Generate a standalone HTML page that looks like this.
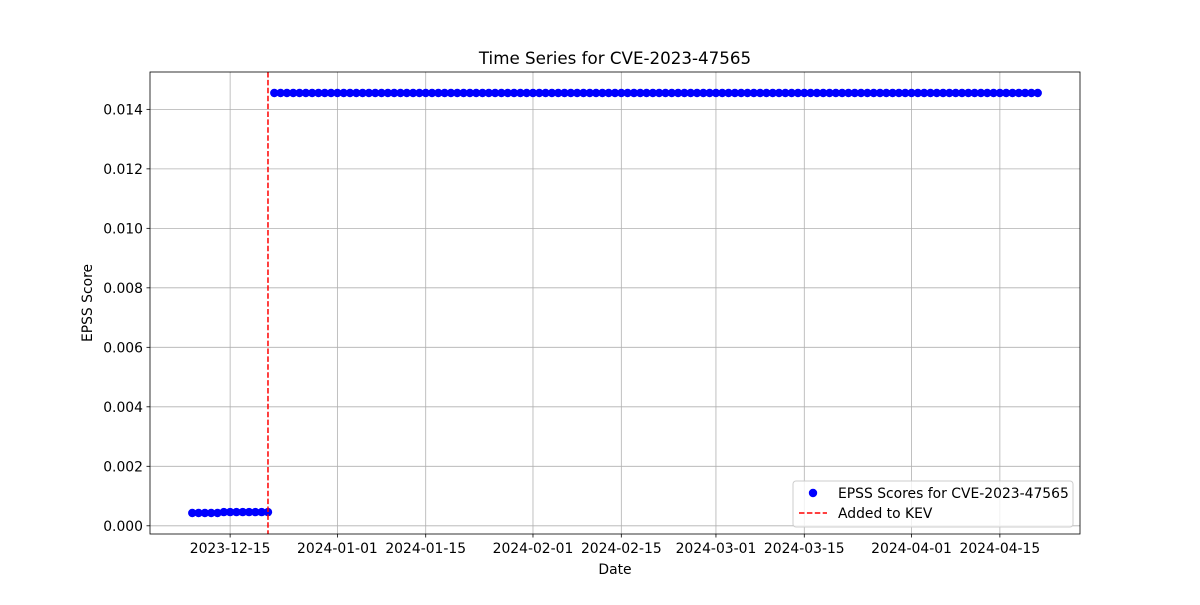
<!DOCTYPE html>
<html><head><meta charset="utf-8"><style>
body{margin:0;background:#fff;font-family:"Liberation Sans","DejaVu Sans",sans-serif;}
</style></head><body>
<svg id="chart" width="1200" height="600" xmlns="http://www.w3.org/2000/svg" font-family="DejaVu Sans, Liberation Sans, sans-serif"></svg>
<script>
const startDate = "2023-12-09";
const lowValues = [0.00043,0.00043,0.00043,0.00043,0.00043,0.00046,0.00046,0.00046,0.00046,0.00046,0.00046,0.00046,0.00046];
const highValues = [
0.01455,0.01455,0.01455,0.01455,0.01455,0.01455,0.01455,0.01455,0.01455,0.01455,
0.01455,0.01455,0.01455,0.01455,0.01455,0.01455,0.01455,0.01455,0.01455,0.01455,
0.01455,0.01455,0.01455,0.01455,0.01455,0.01455,0.01455,0.01455,0.01455,0.01455,
0.01455,0.01455,0.01455,0.01455,0.01455,0.01455,0.01455,0.01455,0.01455,0.01455,
0.01455,0.01455,0.01455,0.01455,0.01455,0.01455,0.01455,0.01455,0.01455,0.01455,
0.01455,0.01455,0.01455,0.01455,0.01455,0.01455,0.01455,0.01455,0.01455,0.01455,
0.01455,0.01455,0.01455,0.01455,0.01455,0.01455,0.01455,0.01455,0.01455,0.01455,
0.01455,0.01455,0.01455,0.01455,0.01455,0.01455,0.01455,0.01455,0.01455,0.01455,
0.01455,0.01455,0.01455,0.01455,0.01455,0.01455,0.01455,0.01455,0.01455,0.01455,
0.01455,0.01455,0.01455,0.01455,0.01455,0.01455,0.01455,0.01455,0.01455,0.01455,
0.01455,0.01455,0.01455,0.01455,0.01455,0.01455,0.01455,0.01455,0.01455,0.01455,
0.01455,0.01455,0.01455,0.01455,0.01455,0.01455,0.01455,0.01455,0.01455,0.01455,
0.01455,0.01455];
const kevDate = "2023-12-21";
const xTickLabels = ["2023-12-15","2024-01-01","2024-01-15","2024-02-01","2024-02-15","2024-03-01","2024-03-15","2024-04-01","2024-04-15"];
const yTickValues = [0,0.002,0.004,0.006,0.008,0.010,0.012,0.014];

const NS="http://www.w3.org/2000/svg";
const svg=document.getElementById('chart');
function mk(tag,attrs,parent){const e=document.createElementNS(NS,tag);for(const k in attrs)e.setAttribute(k,attrs[k]);(parent||svg).appendChild(e);return e;}
const DAY=86400000;
const t0=Date.parse(startDate);
const values=lowValues.concat(highValues);
const times=values.map((v,i)=>t0+i*DAY);
const L=150,R=1080,T=72,B=534;
const tmin=times[0],tmax=times[times.length-1],tpad=(tmax-tmin)*0.05;
const vmin=Math.min(...values),vmax=Math.max(...values),vpad=(vmax-vmin)*0.05;
const x=t=>L+(t-(tmin-tpad))/((tmax+tpad)-(tmin-tpad))*(R-L);
const y=v=>B-(v-(vmin-vpad))/((vmax+vpad)-(vmin-vpad))*(B-T);
const FS=13.9;

xTickLabels.forEach(d=>{const px=x(Date.parse(d));
 const g=mk('line',{x1:px,x2:px,y1:T,y2:B,stroke:'#b0b0b0','stroke-width':0.8});
 
 mk('line',{x1:px,x2:px,y1:B,y2:B+3.5,stroke:'#000','stroke-width':0.8});
 const t=mk('text',{x:px,y:B+19,'font-size':FS,'text-anchor':'middle'});t.textContent=d;
 
});
yTickValues.forEach(v=>{const py=y(v);
 const g=mk('line',{x1:L,x2:R,y1:py,y2:py,stroke:'#b0b0b0','stroke-width':0.8});
 
 mk('line',{x1:L-3.5,x2:L,y1:py,y2:py,stroke:'#000','stroke-width':0.8});
 const t=mk('text',{x:L-7,y:py+5,'font-size':FS,'text-anchor':'end'});t.textContent=v.toFixed(3);
 
});
values.forEach((v,i)=>{const c=mk('circle',{cx:x(times[i]),cy:y(v),r:4.2,fill:'#0000ff'});
 });
const kx=x(Date.parse(kevDate));
const kl=mk('line',{x1:kx,x2:kx,y1:T,y2:B,stroke:'#ff0000','stroke-width':1.5,'stroke-dasharray':'5.5,2.4'});

const fr=mk('rect',{x:L,y:T,width:R-L,height:B-T,fill:'none',stroke:'#000','stroke-width':0.8});

let t=mk('text',{x:(L+R)/2,y:64,'font-size':16.7,'text-anchor':'middle'});t.textContent='Time Series for CVE-2023-47565';

t=mk('text',{x:(L+R)/2,y:574,'font-size':FS,'text-anchor':'middle'});t.textContent='Date';

t=mk('text',{x:0,y:0,'font-size':FS,'text-anchor':'middle',transform:'translate(92,303) rotate(-90)'});t.textContent='EPSS Score';

const lg=mk('g',{});
mk('rect',{x:793,y:481,width:280,height:46,rx:3,fill:'#fff','fill-opacity':0.8,stroke:'#ccc'},lg);
mk('circle',{cx:813,cy:493,r:4.2,fill:'#0000ff'},lg);
t=mk('text',{x:838,y:498,'font-size':FS},lg);t.textContent='EPSS Scores for CVE-2023-47565';

mk('line',{x1:799,x2:827,y1:513,y2:513,stroke:'#ff0000','stroke-width':1.5,'stroke-dasharray':'5.5,2.4'},lg);
t=mk('text',{x:838,y:518,'font-size':FS},lg);t.textContent='Added to KEV';

</script>
</body></html>
